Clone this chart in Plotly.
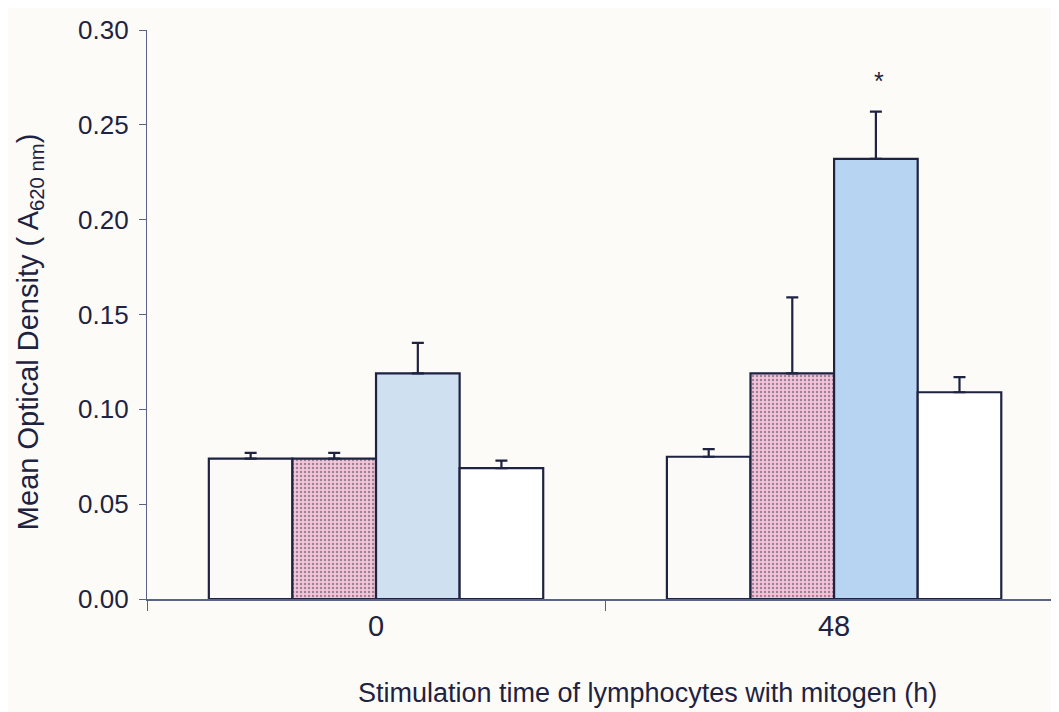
import plotly.graph_objects as go

categories = ["0", "48"]
series_names = ["Control", "Treatment A", "Treatment B", "Treatment C"]
values = {
    "Control": [0.074, 0.075],
    "Treatment A": [0.074, 0.119],
    "Treatment B": [0.119, 0.232],
    "Treatment C": [0.069, 0.109],
}
errors = {
    "Control": [0.003, 0.004],
    "Treatment A": [0.003, 0.040],
    "Treatment B": [0.016, 0.025],
    "Treatment C": [0.004, 0.008],
}
y_ticks = [0.00, 0.05, 0.10, 0.15, 0.20, 0.25, 0.30]
x_title = "Stimulation time of lymphocytes with mitogen (h)"
y_title = "Mean Optical Density ( A<sub>620 nm</sub>)"
annotation_text = "*"
annotation_cat_index = 1
annotation_y = 0.273

colors = {
    "Control": ["#fcf9f9", "#fcf9f9"],
    "Treatment A": ["#f3c6dc", "#f3c4dc"],
    "Treatment B": ["#cfe1f1", "#b7d4f2"],
    "Treatment C": ["#ffffff", "#ffffff"],
}
navy = "#1d2340"

fig = go.Figure()
for name in series_names:
    pattern = None
    if name == "Treatment A":
        pattern = dict(shape=".", fgcolor="#e7accb", bgcolor="#f6d0e3", size=4, solidity=0.3)
    fig.add_trace(go.Bar(
        x=categories, y=values[name], name=name,
        marker=dict(color=colors[name], line=dict(color=navy, width=2.2),
                    pattern=pattern),
        error_y=dict(type="data", array=errors[name], symmetric=False,
                     arrayminus=[0, 0], color=navy, thickness=2.2, width=6),
    ))

fig.add_annotation(x=annotation_cat_index, y=annotation_y, text=annotation_text,
                   xref="x", yref="y", showarrow=False, xshift=45,
                   font=dict(size=25, color=navy))

# axis titles placed as annotations to match their off-centre positions
fig.add_annotation(text=x_title, xref="paper", yref="paper", x=0.549, y=0,
                   yshift=-94, xanchor="center", yanchor="middle", showarrow=False,
                   font=dict(size=27, color=navy))
fig.add_annotation(text=y_title, xref="paper", yref="paper", x=0, y=0.469,
                   xshift=-117, textangle=-90, xanchor="center", yanchor="middle",
                   showarrow=False, font=dict(size=29, color=navy))

fig.update_layout(
    width=1051, height=704,
    margin=dict(l=139, r=0, t=22, b=113),
    paper_bgcolor="#fdfbf8", plot_bgcolor="#fdfbf8",
    barmode="group", bargap=0.27, bargroupgap=0,
    showlegend=False,
    font=dict(family="Liberation Sans, Arial, sans-serif", color=navy),
)
fig.update_xaxes(
    type="category", range=[-0.5, 1.491],
    showline=True, linecolor="#5a6285", linewidth=1.5,
    ticks="outside", tickson="boundaries", ticklen=10, tickcolor="#5a6285",
    tickfont=dict(size=29, color=navy),
    showgrid=False, zeroline=False,
)
fig.update_yaxes(
    range=[0, 0.30], tickvals=y_ticks, tickformat=".2f",
    showline=True, linecolor="#5a6285", linewidth=1.2,
    ticks="outside", ticklen=7, tickcolor="#5a6285",
    tickfont=dict(size=26, color=navy), ticklabelstandoff=5,
    showgrid=False, zeroline=False,
)

fig.write_html("out.html")
